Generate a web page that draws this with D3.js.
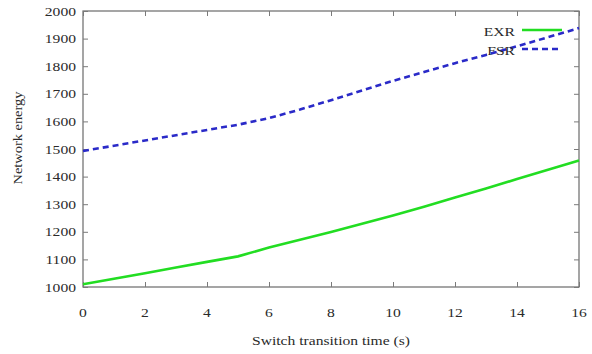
<!DOCTYPE html>
<html>
<head>
<meta charset="utf-8">
<script src="https://cdn.jsdelivr.net/npm/d3@7"></script>
<style>
  html, body { margin: 0; padding: 0; background: #fff; }
  svg { display: block; }
</style>
</head>
<body>
<svg id="chart" width="592" height="354"></svg>
<script>
// Switch transition time (s)
const times = [0, 1, 2, 3, 4, 5, 6, 7, 8, 9, 10, 11, 12, 13, 14, 15, 16];
// Network energy per scheme
const exrEnergy = [1010, 1030, 1050, 1071, 1091, 1111, 1143, 1171, 1199, 1229, 1259, 1291, 1324, 1357, 1391, 1425, 1458];
const fsrEnergy = [1493, 1512, 1531, 1550, 1569, 1588, 1612, 1643, 1677, 1712, 1747, 1779, 1811, 1841, 1872, 1905, 1938];
const seriesNames = ["EXR", "FSR"];
const xTicks = [0, 2, 4, 6, 8, 10, 12, 14, 16];
const yTicks = [1000, 1100, 1200, 1300, 1400, 1500, 1600, 1700, 1800, 1900, 2000];

const series = [
  { name: seriesNames[0], values: exrEnergy, color: "#22dd22", dash: null },
  { name: seriesNames[1], values: fsrEnergy, color: "#2a2ac8", dash: "6,4" }
];

const svg = d3.select("#chart");
const plotLeft = 83, plotRight = 579, plotTop = 11, plotBottom = 287;
const stretch = 1.2;
const serif = "'Liberation Serif', 'Times New Roman', Times, 'DejaVu Serif', serif";

const x = d3.scaleLinear().domain([0, 16]).range([plotLeft, plotRight]);
const y = d3.scaleLinear().domain([1000, 2000]).range([plotBottom, plotTop]);

// frame
svg.append("rect")
  .attr("x", plotLeft).attr("y", plotTop)
  .attr("width", plotRight - plotLeft).attr("height", plotBottom - plotTop)
  .attr("fill", "none").attr("stroke", "#6a6a6a").attr("stroke-width", 1.2);

// inward ticks on all four sides
const tickLen = 5;
const xb = svg.append("g").attr("transform", `translate(0,${plotBottom})`)
  .call(d3.axisTop(x).tickValues(xTicks).tickSize(tickLen).tickFormat(""));
const xt = svg.append("g").attr("transform", `translate(0,${plotTop})`)
  .call(d3.axisBottom(x).tickValues(xTicks).tickSize(tickLen).tickFormat(""));
const yl = svg.append("g").attr("transform", `translate(${plotLeft},0)`)
  .call(d3.axisRight(y).tickValues(yTicks).tickSize(tickLen).tickFormat(""));
const yr = svg.append("g").attr("transform", `translate(${plotRight},0)`)
  .call(d3.axisLeft(y).tickValues(yTicks).tickSize(tickLen).tickFormat(""));
[xb, xt, yl, yr].forEach(g => {
  g.select(".domain").remove();
  g.selectAll("line").attr("stroke", "#7a7a7a").attr("stroke-width", 1);
});

// text helper: serif labels, slightly widened
function label(tx, ty, str, anchor, size, rot) {
  const r = rot ? ` rotate(${rot})` : "";
  return svg.append("text")
    .attr("transform", `translate(${tx},${ty})${r} scale(${stretch},1)`)
    .attr("text-anchor", anchor)
    .attr("font-family", serif)
    .attr("font-size", size)
    .attr("fill", "#2a2a2a")
    .text(str);
}

// tick labels
xTicks.forEach(v => label(x(v), 317, d3.format("d")(v), "middle", 13));
yTicks.forEach(v => label(76, y(v) + 4.5, d3.format("d")(v), "end", 13));

// axis titles
label(331, 345, "Switch transition time (s)", "middle", 13);
label(22, 138, "Network energy", "middle", 12, -90);

// lines
const line = d3.line()
  .x((d, i) => x(times[i]))
  .y(d => y(d));

series.forEach(s => {
  svg.append("path")
    .datum(s.values)
    .attr("d", line)
    .attr("fill", "none")
    .attr("stroke", s.color)
    .attr("stroke-width", 2.6)
    .attr("stroke-dasharray", s.dash);
});

// key
series.forEach((s, i) => {
  const ky = 31 + i * 19;
  label(515, ky + 4.5, s.name, "end", 13);
  svg.append("line")
    .attr("x1", 522).attr("x2", 562)
    .attr("y1", ky - 1).attr("y2", ky - 1)
    .attr("stroke", s.color)
    .attr("stroke-width", 2.6)
    .attr("stroke-dasharray", s.dash);
});
</script>
</body>
</html>
